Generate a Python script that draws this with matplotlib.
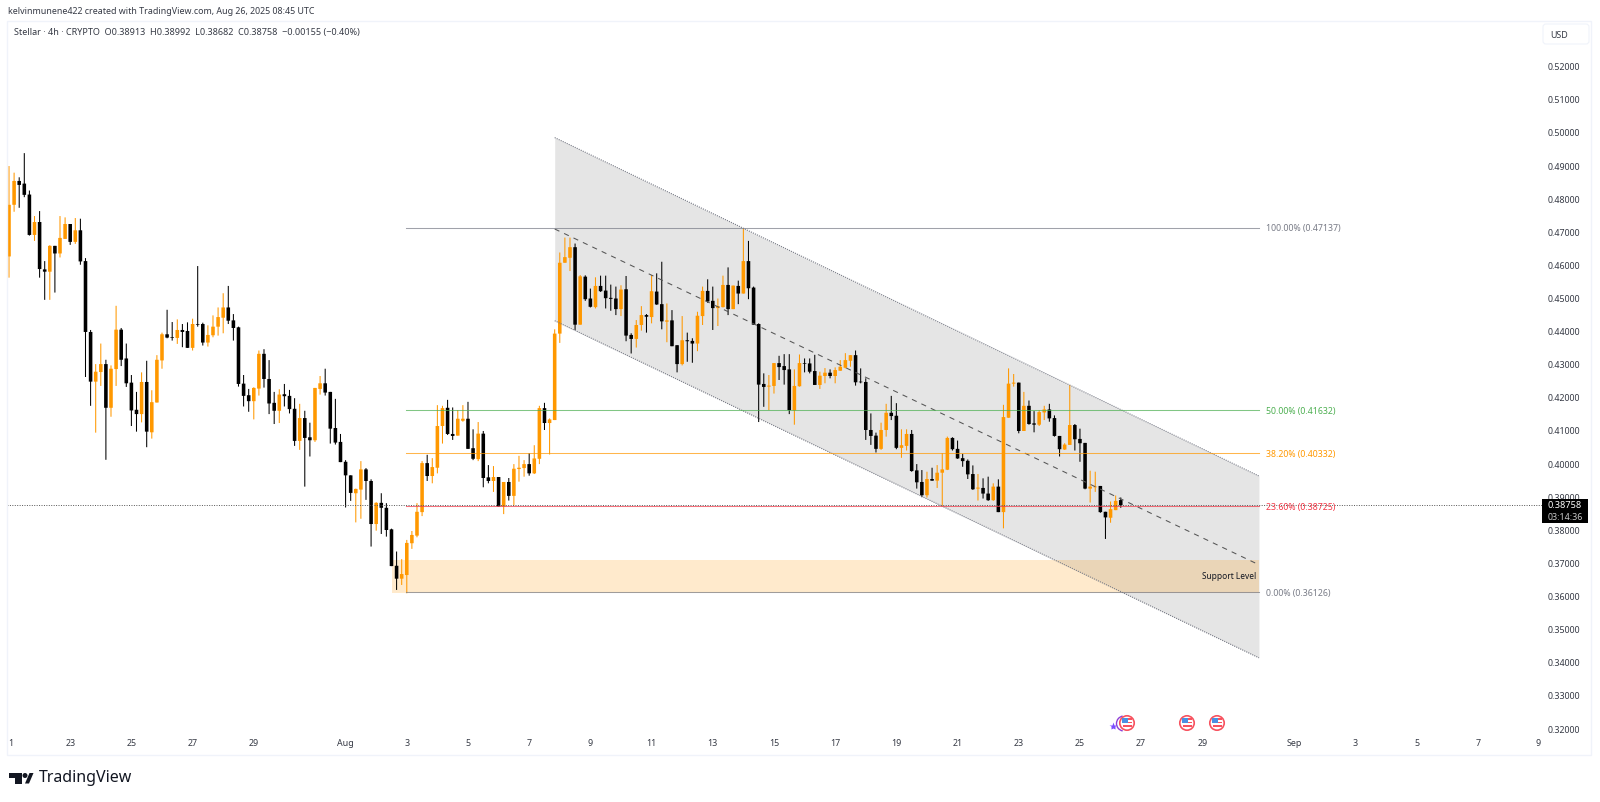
import matplotlib
matplotlib.use("Agg")
import matplotlib.pyplot as plt
from matplotlib.patches import Circle, Rectangle, FancyBboxPatch, Polygon, Arc

plt.rcParams['font.family'] = ['Noto Sans', 'DejaVu Sans']

# 4h candles, Jul 21 00:00 to Aug 26 08:00
opens = [.4627,.4783,.4855,.4847,.4814,.4692,.4731,.4588,.4581,.4659,
         .4636,.4680,.4725,.4671,.4706,.4613,.4399,.4249,.4278,.4302,
         .4170,.4287,.4406,.4319,.4246,.4164,.4151,.4248,.4096,.4186,
         .4313,.4392,.4383,.4381,.4405,.4402,.4351,.4423,.4423,.4367,
         .4389,.4415,.4442,.4473,.4434,.4413,.4243,.4208,.4190,.4228,
         .4333,.4257,.4185,.4161,.4211,.4206,.4167,.4070,.4139,.4081,
         .4072,.4227,.4244,.4218,.4109,.4067,.4007,.3966,.3912,.3923,
         .3984,.3949,.3819,.3883,.3868,.3803,.3693,.3654,.3665,.3761,
         .3784,.3855,.4003,.3964,.3989,.4115,.4170,.4091,.4086,.4131,
         .4137,.4048,.4015,.4092,.3960,.3949,.3961,.3872,.3946,.3904,
         .3985,.3988,.4000,.3972,.4016,.4169,.4124,.4133,.4394,.4608,
         .4623,.4655,.4421,.4566,.4500,.4474,.4538,.4524,.4502,.4500,
         .4468,.4528,.4390,.4378,.4420,.4450,.4444,.4521,.4483,.4430,
         .4434,.4359,.4302,.4374,.4372,.4364,.4447,.4523,.4493,.4471,
         .4474,.4541,.4468,.4538,.4515,.4613,.4533,.4423,.4242,.4234,
         .4236,.4305,.4296,.4286,.4162,.4235,.4305,.4304,.4281,.4239,
         .4266,.4276,.4266,.4282,.4291,.4312,.4329,.4249,.4248,.4103,
         .4086,.4046,.4103,.4155,.4146,.4049,.4055,.4091,.3981,.3946,
         .3906,.3955,.3950,.3974,.3983,.4079,.4046,.4018,.4010,.3970,
         .3926,.3928,.3911,.3891,.3932,.3855,.4140,.4243,.4246,.4100,
         .4176,.4123,.4119,.4156,.4165,.4139,.4085,.4044,.4058,.4118,
         .4076,.4064,.3926,.3930,.3934,.3856,.3838,.3861,.38913]
highs = [.4900,.4880,.4866,.4939,.4826,.4749,.4764,.4613,.4661,.4659,
         .4749,.4745,.4725,.4743,.4741,.4622,.4405,.4302,.4364,.4315,
         .4298,.4478,.4411,.4364,.4269,.4218,.4277,.4312,.4223,.4329,
         .4397,.4466,.4429,.4437,.4423,.4428,.4439,.4598,.4427,.4419,
         .4449,.4473,.4516,.4538,.4453,.4415,.4269,.4227,.4232,.4343,
         .4347,.4314,.4218,.4226,.4242,.4224,.4199,.4182,.4161,.4125,
         .4230,.4266,.4288,.4218,.4197,.4091,.4012,.3966,.3926,.4009,
         .3988,.3954,.3885,.3912,.3882,.3805,.3736,.3713,.3771,.3798,
         .3882,.4009,.4028,.4018,.4178,.4176,.4194,.4171,.4163,.4178,
         .4188,.4105,.4127,.4100,.3997,.3994,.3961,.3946,.3958,.4000,
         .4025,.4012,.4033,.4057,.4176,.4185,.4138,.4407,.4639,.4684,
         .4684,.4666,.4571,.4570,.4530,.4564,.4569,.4569,.4542,.4536,
         .4540,.4568,.4395,.4435,.4477,.4453,.4571,.4576,.4611,.4485,
         .4465,.4359,.4447,.4397,.4380,.4460,.4536,.4558,.4536,.4500,
         .4569,.4594,.4539,.4554,.4712,.4674,.4536,.4425,.4274,.4269,
         .4305,.4327,.4332,.4332,.4286,.4331,.4319,.4319,.4330,.4279,
         .4290,.4286,.4292,.4314,.4335,.4329,.4343,.4289,.4259,.4153,
         .4095,.4125,.4182,.4206,.4184,.4105,.4105,.4103,.4000,.3982,
         .3977,.3989,.3997,.4033,.4083,.4081,.4071,.4031,.4014,.3996,
         .3970,.3957,.3962,.3942,.3954,.4179,.4289,.4272,.4246,.4218,
         .4192,.4160,.4163,.4176,.4182,.4147,.4085,.4063,.4239,.4121,
         .4107,.4064,.3980,.3977,.3934,.3856,.3887,.3905,.38992]
lows = [.4563,.4762,.4774,.4806,.4690,.4674,.4563,.4496,.4496,.4518,
        .4624,.4680,.4662,.4665,.4602,.4263,.4176,.4095,.4236,.4013,
        .4143,.4236,.4296,.4233,.4115,.4098,.4126,.4051,.4077,.4186,
        .4288,.4380,.4373,.4363,.4353,.4351,.4343,.4415,.4358,.4355,
        .4383,.4388,.4395,.4423,.4373,.4234,.4174,.4158,.4135,.4207,
        .4231,.4151,.4121,.4124,.4174,.4153,.4055,.4043,.3932,.4023,
        .4067,.4210,.4207,.4062,.4059,.4006,.3869,.3889,.3824,.3835,
        .3892,.3751,.3799,.3789,.3781,.3692,.3620,.3635,.3610,.3744,
        .3779,.3843,.3949,.3942,.3972,.4062,.4088,.4073,.4086,.4128,
        .4046,.4012,.4009,.3930,.3942,.3916,.3872,.3849,.3890,.3875,
        .3947,.3962,.3965,.3970,.4000,.4103,.4029,.4133,.4366,.4608,
        .4583,.4405,.4421,.4493,.4473,.4470,.4520,.4470,.4463,.4450,
        .4447,.4371,.4334,.4352,.4403,.4397,.4425,.4481,.4407,.4368,
        .4356,.4277,.4298,.4309,.4306,.4341,.4420,.4487,.4405,.4417,
        .4473,.4450,.4468,.4483,.4515,.4498,.4421,.4127,.4173,.4163,
        .4213,.4254,.4240,.4151,.4119,.4234,.4277,.4274,.4239,.4227,
        .4244,.4259,.4244,.4282,.4289,.4294,.4237,.4244,.4073,.4058,
        .4035,.4043,.4083,.4133,.4045,.4019,.4041,.3977,.3926,.3900,
        .3899,.3950,.3928,.3874,.3982,.4041,.4016,.3992,.3955,.3922,
        .3890,.3896,.3889,.3889,.3855,.3806,.4140,.4234,.4093,.4100,
        .4119,.4096,.4115,.4133,.4128,.4083,.4023,.4043,.4058,.4041,
        .4007,.3924,.3884,.3916,.3853,.3774,.3823,.3861,.38682]
closes = [.4783,.4855,.4843,.4813,.4692,.4731,.4589,.4581,.4659,.4636,
          .4683,.4725,.4671,.4706,.4612,.4399,.4249,.4279,.4302,.4170,
          .4288,.4406,.4315,.4244,.4162,.4151,.4248,.4098,.4187,.4315,
          .4392,.4382,.4381,.4405,.4399,.4351,.4423,.4421,.4367,.4390,
          .4415,.4444,.4473,.4433,.4411,.4242,.4206,.4190,.4230,.4333,
          .4257,.4183,.4161,.4210,.4205,.4166,.4070,.4139,.4079,.4072,
          .4230,.4244,.4216,.4107,.4065,.4006,.3966,.3913,.3925,.3984,
          .3949,.3819,.3883,.3868,.3801,.3692,.3654,.3668,.3762,.3786,
          .3856,.4003,.3964,.3991,.4115,.4169,.4091,.4085,.4137,.4137,
          .4046,.4016,.4092,.3958,.3949,.3961,.3872,.3946,.3904,.3986,
          .3989,.4000,.3972,.4017,.4169,.4124,.4135,.4394,.4608,.4625,
          .4655,.4421,.4567,.4498,.4475,.4538,.4522,.4501,.4499,.4468,
          .4527,.4388,.4378,.4420,.4450,.4445,.4522,.4482,.4431,.4434,
          .4356,.4302,.4374,.4371,.4364,.4448,.4523,.4491,.4471,.4477,
          .4541,.4468,.4539,.4515,.4613,.4531,.4421,.4240,.4233,.4237,
          .4305,.4293,.4284,.4163,.4236,.4305,.4303,.4279,.4239,.4267,
          .4276,.4266,.4284,.4294,.4314,.4329,.4247,.4247,.4103,.4085,
          .4046,.4103,.4155,.4145,.4049,.4057,.4091,.3979,.3945,.3906,
          .3955,.3950,.3974,.3984,.4079,.4045,.4017,.4009,.3969,.3924,
          .3929,.3911,.3891,.3932,.3855,.4142,.4243,.4246,.4100,.4176,
          .4121,.4119,.4157,.4165,.4138,.4085,.4045,.4059,.4118,.4075,
          .4063,.3926,.3932,.3932,.3855,.3839,.3864,.3889,.38758]

price_ticks = [.32,.33,.34,.35,.36,.37,.38,.39,.40,.41,.42,.43,.44,.45,.46,.47,.48,.49,.50,.51,.52]
date_bars = [12,24,36,48,66,78,90,102,114,126,138,150,162,174,186,198,210,222,234,252,264,276,288]
date_labels = ['23','25','27','29','Aug','3','5','7','9','11','13','15','17','19','21','23','25','27','29','Sep','3','5','7']

fib_prices = [.47137,.41632,.40332,.38725,.36126]
fib_labels = ['100.00% (0.47137)','50.00% (0.41632)','38.20% (0.40332)','23.60% (0.38725)','0.00% (0.36126)']
fib_colors = ['#787b86','#4caf50','#ff9800','#f23645','#787b86']

channel_bars = [107,245.1]
channel_top = [.4986,.3964]
channel_mid = [.4710,.3696]
channel_bot = [.4433,.3415]
support_box = [.3612,.3711]
last_price = .38758

W, H = 1600, 802
UP = '#ff9800'
TEXT = '#363a45'

fig = plt.figure(figsize=(W/100, H/100), dpi=100, facecolor='white')
# pane edges in pixels: 7..1542 wide, 21..733 tall
ax = fig.add_axes([7/W, 1-733/H, (1542-7)/W, (733-21)/H])
ax.set_xlim(-0.392, 300.6)
ax.set_ylim(.3188, .5338)
for s in ax.spines.values():
    s.set_visible(False)

idx = list(range(len(opens)))
colors = [UP if c >= o else 'black' for o, c in zip(opens, closes)]

# drawings below the candles
ax.fill_between(channel_bars, channel_bot, channel_top, color='#808080', alpha=.2, lw=0, zorder=1)
ax.axhspan(support_box[0], support_box[1], xmin=(75.1+.392)/300.992, xmax=(245.1+.392)/300.992,
           color=UP, alpha=.2, lw=0, zorder=1)

wicks = ax.vlines(idx, lows, highs, colors=colors, lw=.75, zorder=2)
wicks.set_snap(False)
heights = [max(abs(c-o), .0002) for o, c in zip(opens, closes)]
bottoms = [min(o, c) for o, c in zip(opens, closes)]
bars = ax.bar(idx, heights, bottom=bottoms, width=.7, color=colors, lw=0, zorder=3)
for b in bars:
    b.set_snap(False)

# channel borders and midline
ax.plot(channel_bars, channel_top, color='#787b86', lw=.8, ls=(0, (1, 1)), zorder=4)
ax.plot(channel_bars, channel_bot, color='#787b86', lw=.8, ls=(0, (1, 1)), zorder=4)
ax.plot(channel_bars, channel_mid, color='#555555', lw=.75, ls=(0, (5, 5)), zorder=4)

# fib levels
for p, lab, col in zip(fib_prices, fib_labels, fib_colors):
    ax.plot([77.8, 245.1], [p, p], color=col, lw=.75, alpha=.7, zorder=4)
    ax.text(246.5, p-.0003, lab, color=col, fontsize=6.3, va='center', ha='left', zorder=6)

ax.axhline(last_price, color='#555555', lw=.7, ls=(0, (1, 1.5)), zorder=5)
ax.text(245.1-.6, .3662, 'Support Level', color='#131722', fontsize=6.0, ha='right', va='center', zorder=6)

ax.yaxis.tick_right()
ax.set_yticks(price_ticks)
ax.set_yticklabels(['%.5f' % p for p in price_ticks])
ax.set_xticks(date_bars)
ax.set_xticklabels(date_labels)
ax.tick_params(axis='y', length=0, pad=4.3, labelsize=6.4, labelcolor=TEXT)
ax.tick_params(axis='x', length=0, pad=4.5, labelsize=6.4, labelcolor=TEXT)

# overlay in pixel coordinates for the TradingView furniture
ov = fig.add_axes([0, 0, 1, 1], facecolor='none')
ov.set_xlim(0, W)
ov.set_ylim(H, 0)
ov.axis('off')

ov.add_patch(Rectangle((7, 21), 1584, 734, fill=False, ec='#f0f3fa', lw=1))
ov.text(7.5, 12, 'kelvinmunene422 created with TradingView.com, Aug 26, 2025 08:45 UTC',
        fontsize=6.4, color='#363a45', va='center')
ov.text(14, 33, 'Stellar \u00b7 4h \u00b7 CRYPTO  O0.38913  H0.38992  L0.38682  C0.38758  \u22120.00155 (\u22120.40%)',
        fontsize=6.5, color='#363a45', va='center')

# edge dates cut off by the pane
ov.text(10.7, 744, '1', fontsize=6.4, color=TEXT, ha='center', va='center')
ov.text(1538, 744, '9', fontsize=6.4, color=TEXT, ha='center', va='center')

# USD button
ov.add_patch(FancyBboxPatch((1545, 26), 42, 16, boxstyle='round,pad=2,rounding_size=3', fc='white', ec='#f0f3fa', lw=.8))
ov.text(1559, 35, 'USD', fontsize=6.4, color=TEXT, ha='center', va='center')

# last price tag
ov.add_patch(Rectangle((1542, 499), 46, 23.7, fc='black', ec='none', zorder=5))
ov.text(1565, 506, '0.38758', fontsize=6.6, color='white', weight='bold', ha='center', va='center', zorder=6)
ov.text(1565, 517, '03:14:36', fontsize=6.4, color='#c8c8c8', ha='center', va='center', zorder=6)

# economic event flags
def flag(x, y):
    ov.add_patch(Circle((x, y), 7.2, fc='white', ec='#f7525f', lw=1.2, zorder=7))
    ov.add_patch(Rectangle((x-5, y-1.5), 10, 1.5, fc='#f7525f', ec='none', zorder=8))
    ov.add_patch(Rectangle((x-4.5, y+2), 9, 1.5, fc='#f7525f', ec='none', zorder=8))
    ov.add_patch(Rectangle((x-5, y-5), 5.5, 5, fc='#4a90e2', ec='none', zorder=9))
    ov.add_patch(Rectangle((x+.5, y-5), 4, 1.5, fc='#f7525f', ec='none', zorder=8))

for fx in [1127, 1187, 1217]:
    flag(fx, 723)
ov.add_patch(Arc((1124, 723.5), 15, 15, theta1=100, theta2=260, ec='#8e3fd6', lw=1, zorder=6))
ov.plot([1113], [726], marker='*', ms=6, color='#7c4dff', mec='none', zorder=7)

# logo
ov.add_patch(Rectangle((9, 773), 13, 4.5, fc='#131722', ec='none'))
ov.add_patch(Rectangle((15, 773), 6.5, 10.5, fc='#131722', ec='none'))
ov.add_patch(Circle((25, 775.5), 2.5, fc='#131722', ec='none'))
ov.add_patch(Polygon([(25, 783.5), (29.5, 773), (33.5, 773), (29, 783.5)], fc='#131722', ec='none'))
ov.text(39, 778, 'TradingView', fontsize=11.5, color='#131722', weight='medium', va='center')

fig.savefig('out.png', dpi=100)
